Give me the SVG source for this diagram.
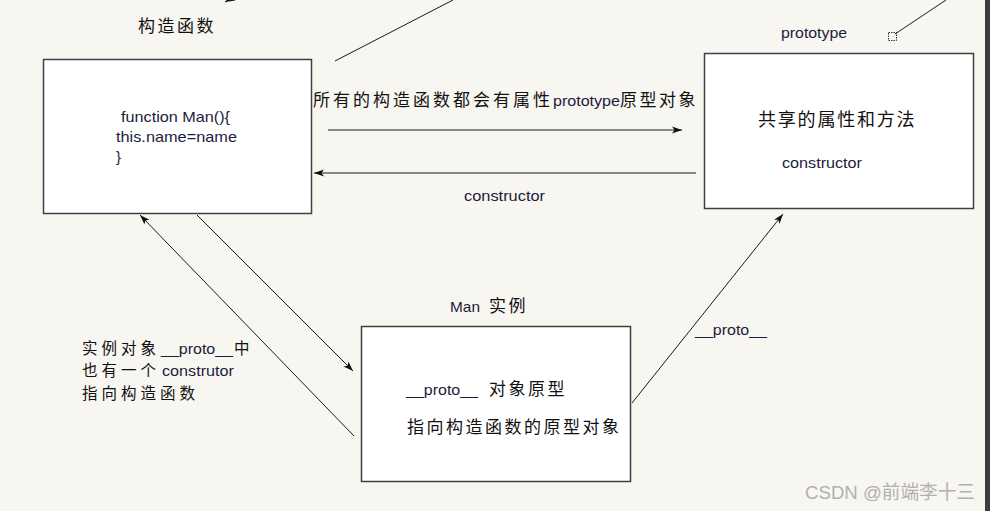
<svg xmlns="http://www.w3.org/2000/svg" width="990" height="511" viewBox="0 0 990 511">
<defs>
<marker id="ah" viewBox="0 0 10 8" refX="10" refY="4" markerWidth="10" markerHeight="8" markerUnits="userSpaceOnUse" orient="auto">
<path d="M0,0.5 L10,4 L0,7.5 L2.5,4 Z" fill="#111"/>
</marker>
<style>
.box{fill:#ffffff;stroke:#404040;stroke-width:1.5}
.ln{fill:none;stroke:#1a1a1a;stroke-width:1}
.cjk{font-family:"Noto Sans CJK SC","Noto Sans",sans-serif;font-size:17px;letter-spacing:2.5px;fill:#111}
.cjs{font-family:"Noto Sans CJK SC","Noto Sans",sans-serif;font-size:15.5px;letter-spacing:4px;fill:#111}
.lat{font-family:"Liberation Sans",Arial,sans-serif;font-size:15px;fill:#1c1c3c}
.wm{font-family:"Liberation Sans","Noto Sans CJK SC",sans-serif;font-size:19px;fill:#b0b0b0}
</style>
</defs>
<rect width="990" height="511" fill="#f8f6f0"/>
<rect x="985" y="0" width="5" height="511" fill="#3c3c3c"/>

<g id="connectors">
<line class="ln" x1="240" y1="-6" x2="225" y2="2" marker-end="url(#ah)"/>
<line class="ln" x1="335" y1="61" x2="453" y2="0"/>
<line class="ln" x1="895" y1="34" x2="946" y2="0"/>
<rect x="888.5" y="32.5" width="8" height="8" fill="none" stroke="#333" stroke-width="1" stroke-dasharray="1.5,1"/>
<line class="ln" x1="328" y1="130" x2="682" y2="130" marker-end="url(#ah)"/>
<line class="ln" x1="696" y1="173" x2="314" y2="173" marker-end="url(#ah)"/>
<line class="ln" x1="197" y1="215" x2="353" y2="371" marker-end="url(#ah)"/>
<line class="ln" x1="354" y1="436" x2="140" y2="215" marker-end="url(#ah)"/>
<line class="ln" x1="632" y1="403" x2="783" y2="214" marker-end="url(#ah)"/>
</g>

<g id="constructor-node">
<text class="cjk" x="138" y="32">构造函数</text>
<rect class="box" x="43.5" y="59.5" width="268" height="154"/>
<text class="lat" x="121" y="122" textLength="109" lengthAdjust="spacingAndGlyphs">function Man(){</text>
<text class="lat" x="116" y="142" textLength="121" lengthAdjust="spacingAndGlyphs">this.name=name</text>
<text class="lat" x="116" y="162">}</text>
</g>

<g id="label-prototype-edge">
<text class="cjk" x="313" y="106" style="letter-spacing:3px">所有的构造函数都会有属性</text>
<text class="lat" x="553" y="106" textLength="67" lengthAdjust="spacingAndGlyphs">prototype</text>
<text class="cjk" x="620" y="106">原型对象</text>
</g>

<g id="label-constructor-edge">
<text class="lat" x="464" y="201" textLength="81" lengthAdjust="spacingAndGlyphs">constructor</text>
</g>

<g id="prototype-node">
<text class="lat" x="781" y="38" textLength="66" lengthAdjust="spacingAndGlyphs">prototype</text>
<rect class="box" x="704.5" y="53.5" width="269" height="155"/>
<text class="cjk" x="758" y="126" style="font-size:18px;letter-spacing:1.8px">共享的属性和方法</text>
<text class="lat" x="782" y="168" textLength="80" lengthAdjust="spacingAndGlyphs">constructor</text>
</g>

<g id="instance-node">
<text class="lat" x="450" y="312" textLength="30" lengthAdjust="spacingAndGlyphs">Man</text>
<text class="cjk" x="489" y="312">实例</text>
<rect class="box" x="361.5" y="326.5" width="269" height="155"/>
<text class="lat" x="406" y="395" textLength="72" lengthAdjust="spacingAndGlyphs">__proto__</text>
<text class="cjk" x="489" y="395">对象原型</text>
<text class="cjk" x="407" y="433">指向构造函数的原型对象</text>
</g>

<g id="label-instance-constructor">
<text class="cjs" x="82" y="353.5">实例对象</text>
<text class="lat" x="161" y="353.5" textLength="72" lengthAdjust="spacingAndGlyphs">__proto__</text>
<text class="cjs" x="234" y="353.5">中</text>
<text class="cjs" x="82" y="376">也有一个</text>
<text class="lat" x="162" y="376" textLength="72" lengthAdjust="spacingAndGlyphs">construtor</text>
<text class="cjs" x="82" y="398.5">指向构造函数</text>
</g>

<g id="label-proto-edge">
<text class="lat" x="695" y="335" textLength="72" lengthAdjust="spacingAndGlyphs">__proto__</text>
</g>

<text class="wm" x="805" y="499" textLength="170" lengthAdjust="spacingAndGlyphs">CSDN @前端李十三</text>
</svg>
